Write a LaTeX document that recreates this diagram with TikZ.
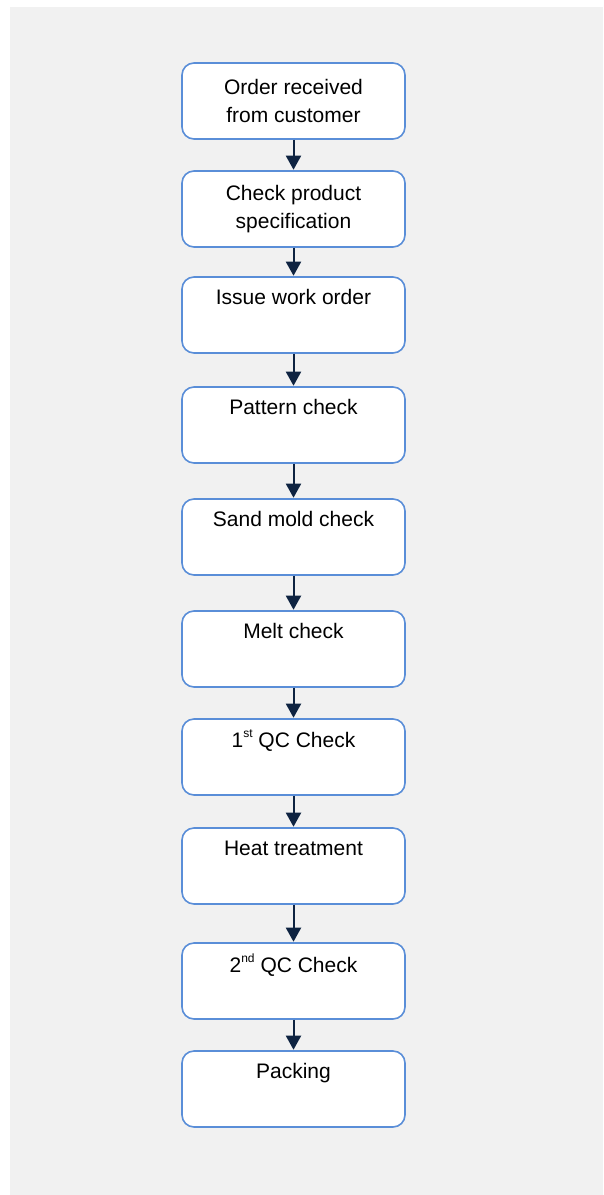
\documentclass[tikz,border=0pt]{standalone}
\usepackage{fontspec}
\setmainfont{Liberation Sans}
\usetikzlibrary{arrows.meta}
\definecolor{bgc}{HTML}{F1F1F1}
\definecolor{boxline}{HTML}{5A8ED8}
\definecolor{arrc}{HTML}{0E2341}
\newcommand{\supx}[1]{\raisebox{10pt}{\fontsize{12}{12}\selectfont #1}}
\tikzset{
  stepbox/.style={draw=boxline, line width=1.6pt, fill=white, rounded corners=12pt,
    minimum width=223pt, minimum height=76pt, inner sep=0pt, align=center,
    font=\fontsize{21}{28}\selectfont, text=black},
  arr/.style={draw=arrc, line width=2pt, -{Triangle[width=15pt,length=14pt]}, shorten >=0.5pt}
}
\begin{document}
\begin{tikzpicture}[x=1pt,y=-1pt]
\useasboundingbox (0,0) rectangle (603,1195);
\fill[bgc] (10,7) rectangle (603,1195);
\node[stepbox] (n1) at (293.5,101) {Order received\\from customer};
\node[stepbox] (n2) at (293.5,209) {Check product\\specification};
\node[stepbox] (n3) at (293.5,315) {Issue work order\\\strut};
\node[stepbox] (n4) at (293.5,425) {Pattern check\\\strut};
\node[stepbox] (n5) at (293.5,537) {Sand mold check\\\strut};
\node[stepbox] (n6) at (293.5,649) {Melt check\\\strut};
\node[stepbox] (n7) at (293.5,757) {1\supx{st} QC Check\\\strut};
\node[stepbox] (n8) at (293.5,866) {Heat treatment\\\strut};
\node[stepbox] (n9) at (293.5,981) {2\supx{nd} QC Check\\\strut};
\node[stepbox] (n10) at (293.5,1089) {Packing\\\strut};
\foreach \a/\b in {n1/n2,n2/n3,n3/n4,n4/n5,n5/n6,n6/n7,n7/n8,n8/n9,n9/n10}
  \draw[arr] (\a) -- (\b);
\end{tikzpicture}
\end{document}
